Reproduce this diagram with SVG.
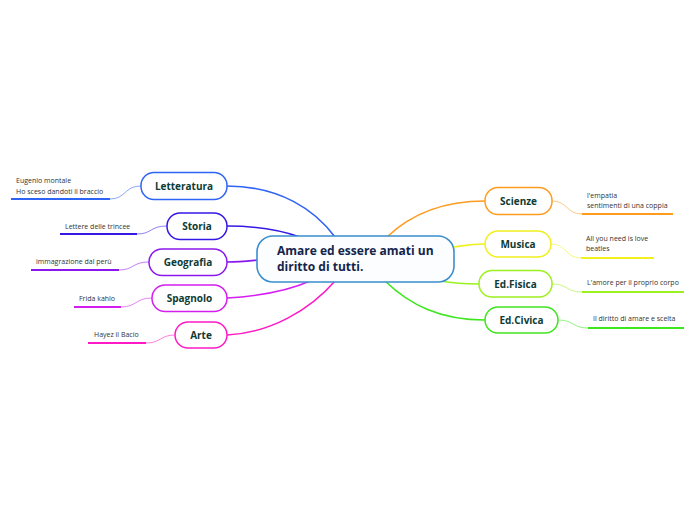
<svg xmlns="http://www.w3.org/2000/svg" width="696" height="520" viewBox="0 0 696 520">
<style>
.c{fill:none;stroke-width:1.6}
.l{fill:none;stroke-width:1;opacity:0.55}
.u{fill:none;stroke-width:2}
.n{fill:#fff;stroke-width:1.5}
.t{font-family:"Open Sans","Noto Sans",sans-serif;font-weight:bold;font-size:10px;fill:#0e3b33;text-anchor:middle}
.s{font-family:"Open Sans","Noto Sans",sans-serif;font-size:7px;fill:#333}
.m{font-family:"Open Sans","Noto Sans",sans-serif;font-weight:bold;font-size:12px;fill:#14244a}
</style>
<rect width="696" height="520" fill="#fff"/>
<g id="connectors">
<path class="c" stroke="#2e63f5" d="M227,186 C280,186 315,210 335,237"/>
<path class="c" stroke="#3418e6" d="M227,226 C255,226 280,230 300,237"/>
<path class="c" stroke="#8a18ee" d="M227,262 C240,262 248,261 258,260"/>
<path class="c" stroke="#d41ef0" d="M227,298 C260,296 290,290 310,281"/>
<path class="c" stroke="#ff1ac6" d="M227,335 C270,333 310,310 335,281"/>
<path class="c" stroke="#ff9c1f" d="M485,201 C440,201 410,215 387,237"/>
<path class="c" stroke="#f0f01e" d="M485,244 C470,244 462,246 454,247"/>
<path class="c" stroke="#9cf01e" d="M479,284 C465,284 452,283 440,281"/>
<path class="c" stroke="#3ee61e" d="M485,320 C440,320 410,305 385,281"/>
<path class="l" stroke="#2e63f5" d="M141,186 C124,186 126,199 110,199"/>
<path class="l" stroke="#3418e6" d="M167,226 C150,226 152,234 137,234"/>
<path class="l" stroke="#8a18ee" d="M149,262 C132,262 134,270 119,270"/>
<path class="l" stroke="#d41ef0" d="M152,298 C135,298 137,307 121,307"/>
<path class="l" stroke="#ff1ac6" d="M175,335 C160,335 161,343 146,343"/>
<path class="l" stroke="#ff9c1f" d="M552,201 C568,201 566,214 582,214"/>
<path class="l" stroke="#f0f01e" d="M551,244 C567,244 565,258 581,258"/>
<path class="l" stroke="#9cf01e" d="M552,284 C568,284 566,292 582,292"/>
<path class="l" stroke="#3ee61e" d="M558,320 C574,320 572,328 588,328"/>
<path class="u" stroke="#2e63f5" d="M11,199 H110"/>
<path class="u" stroke="#3418e6" d="M60,234 H137"/>
<path class="u" stroke="#8a18ee" d="M31,270 H119"/>
<path class="u" stroke="#d41ef0" d="M74,307 H121"/>
<path class="u" stroke="#ff1ac6" d="M88,343 H146"/>
<path class="u" stroke="#ff9c1f" d="M582,214 H673"/>
<path class="u" stroke="#f0f01e" d="M581,258 H654"/>
<path class="u" stroke="#9cf01e" d="M582,292 H684"/>
<path class="u" stroke="#3ee61e" d="M588,328 H684"/>
</g>
<g id="center">
<rect x="257" y="236" width="197" height="46" rx="16" fill="#fbfdff" stroke="#3a8fd0" stroke-width="1.6"/>
<text class="m" x="277" y="255">Amare ed essere amati un</text>
<text class="m" x="277" y="271">diritto di tutti.</text>
</g>
<g id="letteratura">
<rect class="n" x="141" y="172.5" width="86" height="27" rx="13" stroke="#2e63f5"/>
<text class="t" x="184" y="190">Letteratura</text>
<text class="s" x="16" y="183">Eugenio montale</text>
<text class="s" x="16" y="194">Ho sceso dandoti il braccio</text>
</g>
<g id="storia">
<rect class="n" x="167" y="213" width="60" height="26.5" rx="13" stroke="#3418e6"/>
<text class="t" x="197" y="230">Storia</text>
<text class="s" x="65" y="229">Lettere delle trincee</text>
</g>
<g id="geografia">
<rect class="n" x="149" y="249" width="78" height="26.5" rx="13" stroke="#8a18ee"/>
<text class="t" x="188" y="266">Geografia</text>
<text class="s" x="36" y="264">immagrazione dal perù</text>
</g>
<g id="spagnolo">
<rect class="n" x="152" y="285" width="75" height="26.5" rx="13" stroke="#d41ef0"/>
<text class="t" x="189.5" y="302">Spagnolo</text>
<text class="s" x="79" y="301">Frida kahlo</text>
</g>
<g id="arte">
<rect class="n" x="175" y="322" width="52" height="26" rx="13" stroke="#ff1ac6"/>
<text class="t" x="201" y="339">Arte</text>
<text class="s" x="94" y="337">Hayez il Bacio</text>
</g>
<g id="scienze">
<rect class="n" x="485" y="187.5" width="67" height="27" rx="13" stroke="#ff9c1f"/>
<text class="t" x="518.5" y="205">Scienze</text>
<text class="s" x="587" y="198">l'empatia</text>
<text class="s" x="587" y="208">sentimenti di una coppia</text>
</g>
<g id="musica">
<rect class="n" x="485" y="231" width="66" height="26" rx="13" stroke="#f0f01e"/>
<text class="t" x="518" y="248">Musica</text>
<text class="s" x="586" y="241">All you need is love</text>
<text class="s" x="586" y="251">beatles</text>
</g>
<g id="edfisica">
<rect class="n" x="479" y="270.5" width="73" height="26.5" rx="13" stroke="#9cf01e"/>
<text class="t" x="515.5" y="288">Ed.Fisica</text>
<text class="s" x="587" y="285">L'amore per il proprio corpo</text>
</g>
<g id="edcivica">
<rect class="n" x="485" y="307" width="73" height="26" rx="13" stroke="#3ee61e"/>
<text class="t" x="521.5" y="324">Ed.Civica</text>
<text class="s" x="593" y="321">Il diritto di amare e scelta</text>
</g>
</svg>
